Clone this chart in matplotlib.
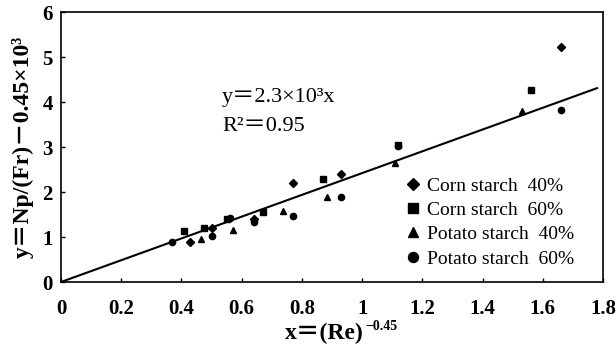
import numpy as np
import matplotlib
matplotlib.use("Agg")
import matplotlib.pyplot as plt

plt.rcParams['font.family'] = ['Liberation Serif', 'Noto Sans CJK SC', 'DejaVu Serif']

# data
corn40_x = [1.66, 0.93, 0.77, 0.64, 0.50, 0.43]
corn40_y = [5.23, 2.39, 2.21, 1.41, 1.19, 0.90]
corn60_x = [1.56, 1.12, 0.87, 0.67, 0.55, 0.475, 0.41]
corn60_y = [4.27, 3.05, 2.30, 1.56, 1.40, 1.19, 1.13]
potato40_x = [1.53, 1.11, 0.885, 0.736, 0.57, 0.465]
potato40_y = [3.80, 2.64, 1.90, 1.58, 1.15, 0.95]
potato60_x = [1.66, 1.12, 0.93, 0.77, 0.64, 0.56, 0.50, 0.37]
potato60_y = [3.82, 3.03, 1.90, 1.47, 1.34, 1.43, 1.03, 0.90]

fit_slope = 2.42
fit_x = np.array([0.0, 1.78])

fig = plt.figure(figsize=(6.16, 3.56), dpi=100)
ax = fig.add_axes([61 / 616, 1 - 282 / 356, 542 / 616, 270 / 356])

ax.plot(fit_x, fit_slope * fit_x, color='black', lw=1.5)
ax.plot(corn40_x, corn40_y, 'D', color='black', ms=4, label='Corn starch  40%')
ax.plot(corn60_x, corn60_y, 's', color='black', ms=4.5, label='Corn starch  60%')
ax.plot(potato40_x, potato40_y, '^', color='black', ms=4.5, label='Potato starch  40%')
ax.plot(potato60_x, potato60_y, 'o', color='black', ms=4.5, label='Potato starch  60%')

ax.set_xlim(0, 1.8)
ax.set_ylim(0, 6)
ax.set_xticks(np.arange(0, 1.81, 0.2))
ax.set_xticklabels(['0', '0.2', '0.4', '0.6', '0.8', '1', '1.2', '1.4', '1.6', '1.8'])
ax.set_yticks(range(7))
ax.tick_params(direction='in', length=3, width=1, labelsize=15)
ax.tick_params(axis='x', pad=12)
ax.tick_params(axis='y', pad=6)
for lab in ax.get_xticklabels() + ax.get_yticklabels():
    lab.set_fontweight('bold')
for s in ax.spines.values():
    s.set_linewidth(1.2)

# x label: main part plus a raised exponent
xlab = fig.text(285 / 616, 1 - 333 / 356, 'x＝(Re)', fontsize=17, fontweight='bold',
                ha='left', va='center')
ax.annotate('\u22120.45', xy=(1, 1), xycoords=xlab, xytext=(1, 2),
            textcoords='offset points', fontsize=10, fontweight='bold',
            ha='left', va='top')
ax.set_ylabel('y＝Np/(Fr)－0.45×10\u00b3', fontsize=17, fontweight='bold', labelpad=6)

ax.text(0.535, 4.1, 'y＝2.3×10\u00b3x', fontsize=16, va='center')
ax.text(0.535, 3.45, 'R\u00b2＝0.95', fontsize=16, va='center')

ax.legend(loc='upper left', bbox_to_anchor=(0.635, 0.388), frameon=False,
          fontsize=14, handlelength=0.8, handletextpad=0.3, labelspacing=0.34,
          borderaxespad=0, borderpad=0, markerscale=1.6)

fig.savefig('out.png', dpi=100)
